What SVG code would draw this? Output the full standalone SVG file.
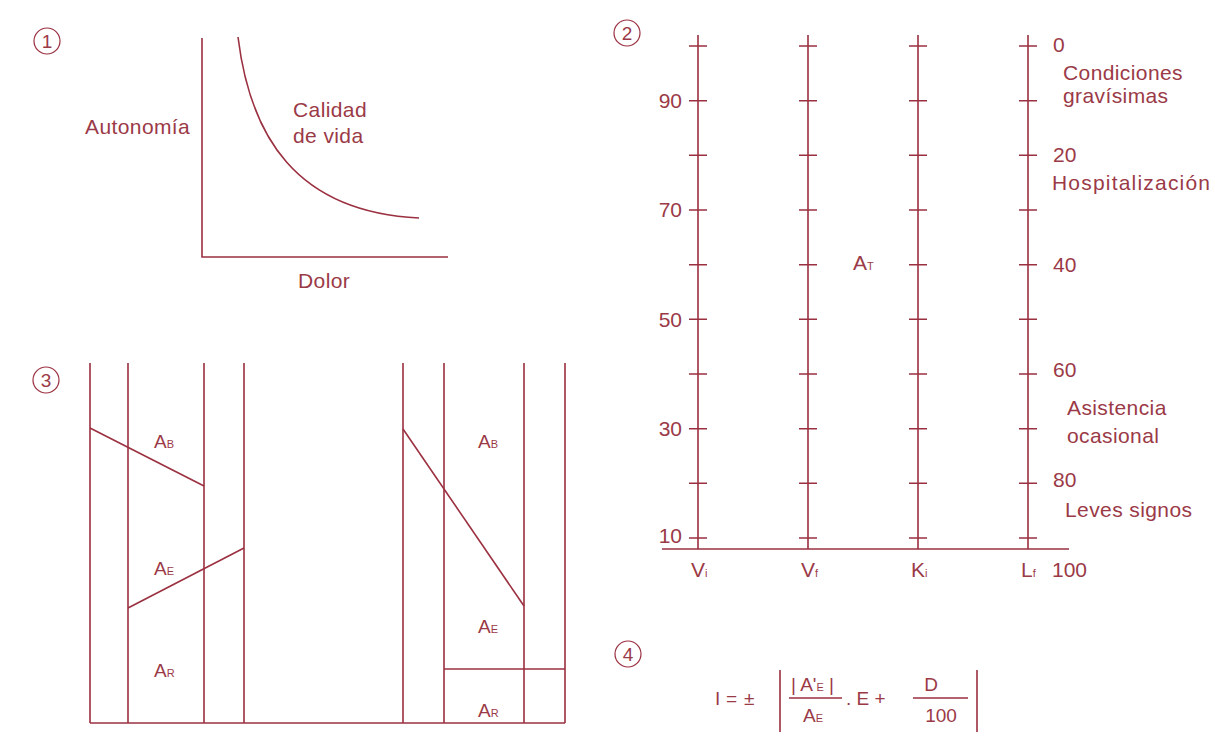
<svg xmlns="http://www.w3.org/2000/svg" width="1215" height="755" viewBox="0 0 1215 755">
<style>
.ln{stroke:#9b3040;stroke-width:1.6;fill:none}
.cl{stroke:#9b3040;stroke-width:1.2;fill:none}
text{font-family:"Liberation Sans",Arial,sans-serif;fill:#9b3a47}
.t{font-size:21px;letter-spacing:0.4px}
.n{font-size:21px}
.c{font-size:19px;text-anchor:middle}
.s{font-size:11px}
.l3{font-size:19px}
.f{font-size:19px}
.e{text-anchor:end}
.m{text-anchor:middle}
</style>
<rect width="1215" height="755" fill="#ffffff"/>

<g id="panel1">
<g id="badge1"><circle cx="47" cy="41" r="13" class="cl"/><text x="47" y="48" class="c">1</text></g>
<g id="axes1">
<path d="M202,38V257H448" class="ln"/>
<path d="M238,37C250,135 295,212 419,218" class="ln"/>
</g>
<text x="85" y="134" class="t">Autonomía</text>
<text x="293" y="117" class="t">Calidad</text>
<text x="293" y="143" class="t">de vida</text>
<text x="298" y="288" class="t">Dolor</text>
</g>

<g id="panel2">
<g id="badge2"><circle cx="627" cy="33" r="13" class="cl"/><text x="627" y="40" class="c">2</text></g>
<g id="scales">
<path d="M662,549H1069" class="ln"/>
<path d="M698,35V549M808,35V549M918,35V549M1028,35V549" class="ln"/>
<path d="M689,46H707M689,100.7H707M689,155.3H707M689,210H707M689,264.7H707M689,319.3H707M689,374H707M689,428.7H707M689,483.3H707M689,538H707" class="ln"/>
<path d="M799,46H817M799,100.7H817M799,155.3H817M799,210H817M799,264.7H817M799,319.3H817M799,374H817M799,428.7H817M799,483.3H817M799,538H817" class="ln"/>
<path d="M909,46H927M909,100.7H927M909,155.3H927M909,210H927M909,264.7H927M909,319.3H927M909,374H927M909,428.7H927M909,483.3H927M909,538H927" class="ln"/>
<path d="M1019,46H1037M1019,100.7H1037M1019,155.3H1037M1019,210H1037M1019,264.7H1037M1019,319.3H1037M1019,374H1037M1019,428.7H1037M1019,483.3H1037M1019,538H1037" class="ln"/>
</g>
<g id="leftLabels">
<text x="682" y="108" class="n e">90</text>
<text x="682" y="217" class="n e">70</text>
<text x="682" y="327" class="n e">50</text>
<text x="682" y="436" class="n e">30</text>
<text x="682" y="543" class="n e">10</text>
</g>
<g id="rightLabels">
<text x="1053" y="52" class="n">0</text>
<text x="1063" y="80" class="t">Condiciones</text>
<text x="1063" y="103" class="t">gravísimas</text>
<text x="1053" y="162" class="n">20</text>
<text x="1052" y="190" class="t" style="letter-spacing:1.2px">Hospitalización</text>
<text x="1053" y="272" class="n">40</text>
<text x="1053" y="377" class="n">60</text>
<text x="1067" y="415" class="t">Asistencia</text>
<text x="1067" y="443" class="t">ocasional</text>
<text x="1053" y="487" class="n">80</text>
<text x="1065" y="517" class="t">Leves signos</text>
<text x="1052" y="577" class="n">100</text>
</g>
<g id="axisLabels">
<text x="691" y="577" class="n">V<tspan class="s">i</tspan></text>
<text x="801" y="577" class="n">V<tspan class="s">f</tspan></text>
<text x="911" y="577" class="n">K<tspan class="s">i</tspan></text>
<text x="1021" y="577" class="n">L<tspan class="s">f</tspan></text>
<text x="853" y="270" class="n">A<tspan class="s">T</tspan></text>
</g>
</g>

<g id="panel3">
<g id="badge3"><circle cx="46" cy="380" r="13" class="cl"/><text x="46" y="387" class="c">3</text></g>
<g id="leftColumn">
<path d="M90,363V723M128,363V723M204,363V723M244,363V723" class="ln"/>
<path d="M90,428L204,486" class="ln"/>
<path d="M128,608L244,548" class="ln"/>
<text x="154" y="448" class="l3">A<tspan class="s">B</tspan></text>
<text x="154" y="575" class="l3">A<tspan class="s">E</tspan></text>
<text x="154" y="677" class="l3">A<tspan class="s">R</tspan></text>
</g>
<g id="rightColumn">
<path d="M403,363V723M444,363V723M524,363V723M565,363V723" class="ln"/>
<path d="M403,429L524,606" class="ln"/>
<path d="M444,669H565" class="ln"/>
<text x="478" y="448" class="l3">A<tspan class="s">B</tspan></text>
<text x="478" y="633" class="l3">A<tspan class="s">E</tspan></text>
<text x="478" y="717" class="l3">A<tspan class="s">R</tspan></text>
</g>
<path id="base3" d="M90,723H565" class="ln"/>
</g>

<g id="panel4">
<g id="badge4"><circle cx="628" cy="654" r="13" class="cl"/><text x="628" y="661" class="c">4</text></g>
<g id="formula">
<text x="715" y="705" class="f">I</text>
<text x="726" y="705" class="f">=</text>
<text x="744" y="705" class="f">±</text>
<path d="M780,670V732M977,670V732" class="ln"/>
<text x="791" y="691" class="f">| A'<tspan class="s">E</tspan> |</text>
<path d="M789,698H842M913,698H968" class="ln"/>
<text x="803" y="722" class="f">A<tspan class="s">E</tspan></text>
<text x="846" y="705" class="f">. E +</text>
<text x="931" y="691" class="f m">D</text>
<text x="941" y="722" class="f m">100</text>
</g>
</g>
</svg>
